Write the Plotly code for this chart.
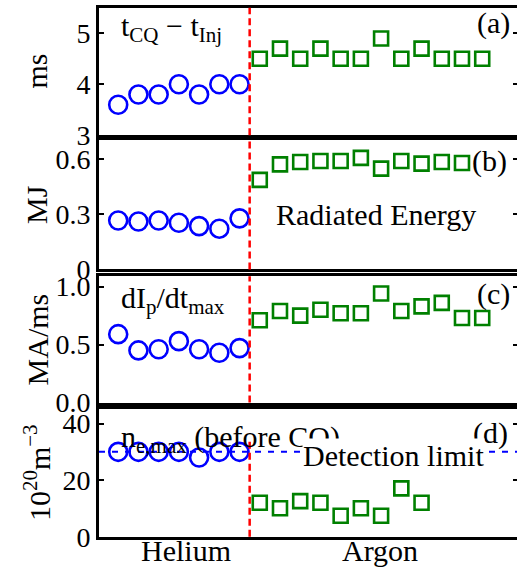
import plotly.graph_objects as go

# ---------------- data ----------------
helium_tcq = [3.6, 3.8, 3.8, 4.0, 3.8, 4.0, 4.0]
argon_tcq = [4.5, 4.7, 4.5, 4.7, 4.5, 4.5, 4.9, 4.5, 4.7, 4.5, 4.5, 4.5]

helium_wrad = [0.265, 0.26, 0.265, 0.253, 0.235, 0.221, 0.277]
argon_wrad = [0.486, 0.57, 0.583, 0.588, 0.588, 0.605, 0.547, 0.588, 0.574, 0.583, 0.577, None]

helium_didt = [0.59, 0.45, 0.46, 0.53, 0.46, 0.43, 0.47]
argon_didt = [0.71, 0.79, 0.75, 0.80, 0.77, 0.77, 0.94, 0.79, 0.83, 0.86, 0.73, 0.73]

helium_ne = [30, 30, 30, 30, 28, 30, 30]
argon_ne = [12.0, 10.1, 12.6, 12.0, 7.4, 10.1, 7.4, 17.1, 12.0, None, None, None]
detection_limit = 30

group_labels = ["Helium", "Argon"]
y_titles = ["ms", "MJ", "MA/ms", "10<sup>20</sup>m<sup>\u22123</sup>"]
panel_labels = ["(a)", "(b)", "(c)", "(d)"]
y_ranges = [[3, 5.5], [0, 0.7], [0, 1.09], [0, 45]]
y_tickvals = [[3, 4, 5], [0, 0.3, 0.6], [0, 0.5, 1.0], [0, 20, 40]]
y_ticktext = [["3", "4", "5"], ["0", "0.3", "0.6"], ["0.0", "0.5", "1.0"], ["0", "20", "40"]]

# ---------------- layout helpers ----------------
W, H = 517, 574
L = 99
FONT = "Liberation Serif"
BLUE = "#0000FF"
GREEN = "#008000"
RED = "#FF0000"

panel_px = [(4, 136), (141.3, 275), (282, 413), (420, 552)]  # top, bottom in px


def px2x(px):
    return (px - L) / (W - L)


def px2y(py):
    return 1 - py / H


he_x = list(range(1, len(helium_tcq) + 1))
ar_x = list(range(len(helium_tcq) + 1, len(helium_tcq) + len(argon_tcq) + 1))
split_x = len(helium_tcq) + 0.5

helium_series = [helium_tcq, helium_wrad, helium_didt, helium_ne]
argon_series = [argon_tcq, argon_wrad, argon_didt, argon_ne]

fig = go.Figure()
shapes = []
annotations = []
layout = dict(
    width=W, height=H,
    margin=dict(l=L, r=0, t=0, b=0),
    paper_bgcolor="white", plot_bgcolor="white",
    showlegend=False,
    font=dict(family=FONT, color="black"),
)

# where the red divider stops at the top of each panel (fraction of panel height)
divider_top = [1, 1, 1, 0.77]

for i in range(4):
    n = i + 1
    xa = "x" if n == 1 else f"x{n}"
    ya = "y" if n == 1 else f"y{n}"
    yo = f"y{n + 4}"
    top, bot = panel_px[i]
    dom = [px2y(bot), px2y(top)]

    fig.add_trace(go.Scatter(
        x=he_x, y=helium_series[i], mode="markers", xaxis=xa, yaxis=ya,
        marker=dict(symbol="circle-open", size=18, color=BLUE, line=dict(width=2.6, color=BLUE)),
        hoverinfo="skip"))
    fig.add_trace(go.Scatter(
        x=ar_x, y=argon_series[i], mode="markers", xaxis=xa, yaxis=ya,
        marker=dict(symbol="square-open", size=14, color=GREEN, line=dict(width=2.6, color=GREEN)),
        hoverinfo="skip"))
    # overlay axis carrying the right-hand ticks
    fig.add_trace(go.Scatter(x=[None], y=[None], xaxis=xa, yaxis=yo, mode="markers",
                             hoverinfo="skip", showlegend=False))

    layout[f"xaxis{n if n > 1 else ''}"] = dict(
        domain=[0, 1], anchor=ya, range=[0.05, 20.72],
        showline=True, linewidth=3, linecolor="black", mirror=True,
        showticklabels=False, ticks="", showgrid=False, zeroline=False,
        **({} if n == 1 else dict(matches="x")))
    layout[f"yaxis{n if n > 1 else ''}"] = dict(
        domain=dom, anchor=xa, range=y_ranges[i],
        tickmode="array", tickvals=y_tickvals[i], ticktext=y_ticktext[i],
        ticks="inside", ticklen=5, tickwidth=2, tickcolor="black",
        showline=True, linewidth=3, linecolor="black", mirror=False,
        showgrid=False, zeroline=False,
        tickfont=dict(family=FONT, size=28, color="black"))
    layout[f"yaxis{n + 4}"] = dict(
        overlaying=ya, side="right", anchor=xa, range=y_ranges[i],
        tickmode="array", tickvals=y_tickvals[i],
        ticks="inside", ticklen=4, tickwidth=2, tickcolor="black",
        showticklabels=False, showline=False, showgrid=False, zeroline=False)

    # red divider between helium and argon
    shapes.append(dict(type="line", xref=xa, yref=f"{ya} domain", x0=split_x, x1=split_x,
                       y0=0, y1=divider_top[i], line=dict(color=RED, width=2.5, dash="7px,4px")))

    # y title
    annotations.append(dict(text=y_titles[i], xref="paper", yref="paper",
                            x=px2x(37), y=px2y((top + bot) / 2), xanchor="center", yanchor="middle",
                            textangle=-90, showarrow=False, font=dict(family=FONT, size=30)))

# detection limit line
shapes.append(dict(type="line", xref="x4 domain", yref="y4", x0=0, x1=1,
                   y0=detection_limit, y1=detection_limit,
                   line=dict(color=BLUE, width=2, dash="6px,7px")))

texts = [
    ("t<sub>CQ</sub> \u2212 t<sub>Inj</sub>", 120, 25, "left", None),
    (panel_labels[0], 511, 20, "right", None),
    (panel_labels[1], 508, 163, "right", None),
    ("Radiated Energy", 375.5, 218, "center", None),
    ("dI<sub>p</sub>/dt<sub>max</sub>", 120, 307, "left", None),
    (panel_labels[2], 511, 300, "right", None),
    ("n<sub>e,max</sub> (before CQ)", 120, 451, "left", None),
    (panel_labels[3], 509, 445, "right", None),
    ("Detection limit", 393.5, 468, "center", "white"),
    (group_labels[0], 186, 566, "center", None),
    (group_labels[1], 380, 566, "center", None),
]
for t, x, y, xa_, bg in texts:
    a = dict(text=t, xref="paper", yref="paper", x=px2x(x), y=px2y(y),
             xanchor=xa_, yanchor="middle", showarrow=False,
             font=dict(family=FONT, size=30), borderpad=0)
    if bg:
        a["bgcolor"] = bg
    annotations.append(a)

layout["shapes"] = shapes
layout["annotations"] = annotations
fig.update_layout(**layout)

fig.write_html("out.html")
